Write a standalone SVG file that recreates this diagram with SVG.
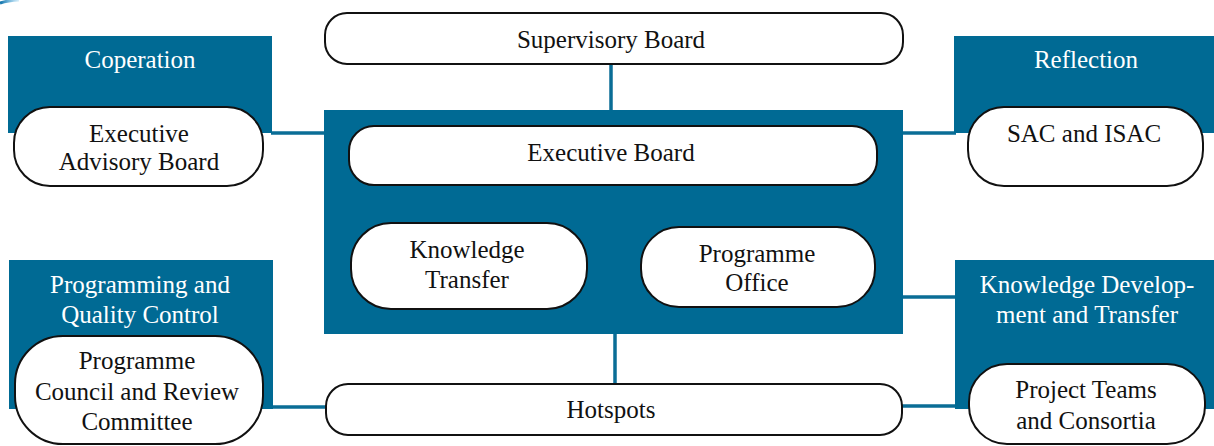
<svg xmlns="http://www.w3.org/2000/svg" width="1214" height="446" viewBox="0 0 1214 446" font-family="'Liberation Serif', 'Times New Roman', serif">
<defs>
<style>
.blue{fill:#006a94}
.pill{fill:#ffffff;stroke:#111111;stroke-width:2}
.conn{stroke:#0a6d96;stroke-width:3.5;fill:none}
text{font-family:'Liberation Serif','Times New Roman',serif;font-size:25px;text-anchor:middle}
.wt{fill:#ffffff}
.bt{fill:#111111}
</style>
<linearGradient id="arcg" x1="0" y1="0" x2="1" y2="0">
<stop offset="0" stop-color="#0a6fa8"/>
<stop offset="1" stop-color="#3aa6e0" stop-opacity="0.2"/>
</linearGradient>
</defs>
<rect width="1214" height="446" fill="#ffffff"/>
<path d="M0,3 Q8,0.5 19,0" stroke="url(#arcg)" stroke-width="3" fill="none"/>

<g id="connectors">
<line class="conn" x1="611" y1="64" x2="611" y2="111"/>
<line class="conn" x1="615" y1="333" x2="615" y2="384"/>
<line class="conn" x1="271" y1="133" x2="326" y2="133"/>
<line class="conn" x1="902" y1="133" x2="956" y2="133"/>
<line class="conn" x1="902" y1="297" x2="956" y2="297"/>
<line class="conn" x1="272" y1="407" x2="327" y2="407"/>
<line class="conn" x1="901" y1="406" x2="956" y2="406"/>
</g>

<g id="supervisory-board">
<rect class="pill" x="325" y="13" width="578" height="51" rx="22"/>
<text class="bt" x="611" y="48">Supervisory Board</text>
</g>

<g id="central-block">
<rect class="blue" x="324" y="110" width="579" height="224"/>
</g>

<g id="executive-board">
<rect class="pill" x="349" y="126" width="528" height="59" rx="25"/>
<text class="bt" x="611" y="161">Executive Board</text>
</g>

<g id="knowledge-transfer">
<rect class="pill" x="351" y="223" width="236" height="86" rx="40"/>
<text class="bt" x="467" y="258">Knowledge</text>
<text class="bt" x="467" y="288">Transfer</text>
</g>

<g id="programme-office">
<rect class="pill" x="641" y="227" width="234" height="80" rx="38"/>
<text class="bt" x="757" y="262">Programme</text>
<text class="bt" x="757" y="291">Office</text>
</g>

<g id="hotspots">
<rect class="pill" x="326" y="384" width="576" height="51" rx="22"/>
<text class="bt" x="611" y="418">Hotspots</text>
</g>

<g id="cooperation">
<rect class="blue" x="8" y="36" width="264" height="97"/>
<text class="wt" x="140" y="68">Coperation</text>
<rect class="pill" x="14" y="107" width="249" height="79" rx="36"/>
<text class="bt" x="139" y="142">Executive</text>
<text class="bt" x="139" y="170">Advisory Board</text>
</g>

<g id="reflection">
<rect class="blue" x="954" y="36" width="260" height="97"/>
<text class="wt" x="1086" y="68">Reflection</text>
<rect class="pill" x="968" y="107" width="235" height="79" rx="36"/>
<text class="bt" x="1084" y="142">SAC and ISAC</text>
</g>

<g id="programming-quality-control">
<rect class="blue" x="9" y="260" width="264" height="149"/>
<text class="wt" x="140" y="293">Programming and</text>
<text class="wt" x="140" y="323">Quality Control</text>
<rect class="pill" x="15" y="336" width="248" height="108" rx="48"/>
<text class="bt" x="137" y="369">Programme</text>
<text class="bt" x="137" y="400">Council and Review</text>
<text class="bt" x="137" y="430">Committee</text>
</g>

<g id="knowledge-development">
<rect class="blue" x="955" y="260" width="259" height="149"/>
<text class="wt" x="1087" y="293">Knowledge Develop-</text>
<text class="wt" x="1087" y="323">ment and Transfer</text>
<rect class="pill" x="969" y="364" width="236" height="80" rx="38"/>
<text class="bt" x="1086" y="398">Project Teams</text>
<text class="bt" x="1086" y="429">and Consortia</text>
</g>
</svg>
